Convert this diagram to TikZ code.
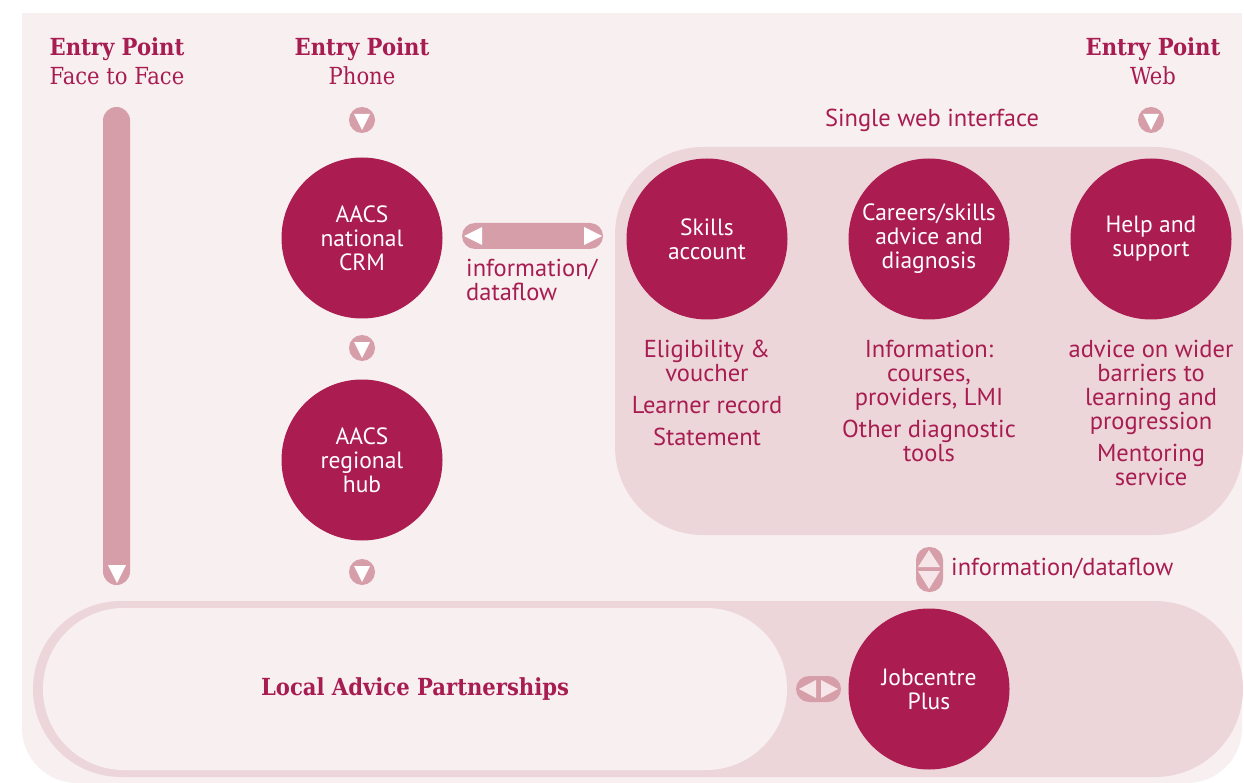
\documentclass[tikz,border=0pt]{standalone}
\usepackage{fontspec}
\setmainfont{PT Sans}
\newfontfamily\slab{DejaVu Serif Condensed}
\definecolor{bgpink}{HTML}{F8EFF1}
\definecolor{regpink}{HTML}{EDD6DA}
\definecolor{arrpink}{HTML}{D69EA8}
\definecolor{darkmag}{HTML}{AB1C50}
\definecolor{txtmag}{HTML}{A81D51}
\definecolor{trilight}{HTML}{F6E6EA}
\tikzset{
  bigc/.style={circle, fill=darkmag, minimum size=161pt, inner sep=0pt, text=white, align=center, font=\fontsize{23.5}{24}\selectfont},
  arrc/.style={circle, fill=arrpink, minimum size=26pt, inner sep=0pt},
  lbl/.style={text=txtmag, align=center, font=\fontsize{24.5}{24}\selectfont, inner sep=0pt},
  head/.style={text=txtmag, align=center, inner sep=0pt, font=\slab\fontsize{23.5}{29}\selectfont},
  dtri/.pic={\fill[white] (-8,-6) -- (8,-6) -- (0,10) -- cycle;}
}
\begin{document}
\begin{tikzpicture}[x=1pt,y=-1pt]
\useasboundingbox (0,0) rectangle (1244,783);
\fill[white] (0,0) rectangle (1244,783);
% background
\fill[bgpink] (22,13) rectangle (1242,700);
\fill[bgpink, rounded corners=55pt] (22,560) rectangle (1242,783);
% web region
\fill[regpink, rounded corners=88pt] (615,147) rectangle (1243,535);
% bottom band
\fill[regpink, rounded corners=88pt] (33,601) rectangle (1243,777);
\fill[bgpink, rounded corners=81pt] (43,608) rectangle (787,770);

% headings
\node[head] (h1) at (117,61) {\textbf{Entry Point}\\Face to Face};
\node[head] (h2) at (362,61) {\textbf{Entry Point}\\Phone};
\node[head] (h3) at (1153,61) {\textbf{Entry Point}\\Web};

% face to face bar
\fill[arrpink, rounded corners=13.5pt] (103,107) rectangle (130,585);
\fill[white] (108,565) -- (126,565) -- (117,583) -- cycle;

% phone column
\node[arrc] (a1) at (362,120) {};
\pic at (a1) {dtri};
\node[bigc] (crm) at (362,238) {AACS\\national\\CRM};
\node[arrc] (a2) at (362,348) {};
\pic at (a2) {dtri};
\node[bigc] (hub) at (362,460) {AACS\\regional\\hub};
\node[arrc] (a3) at (362,572) {};
\pic at (a3) {dtri};

% horizontal dataflow arrow
\fill[arrpink, rounded corners=13pt] (462,223) rectangle (603,249);
\fill[white] (464,236) -- (482,227) -- (482,245) -- cycle;
\fill[white] (602,236) -- (584,227) -- (584,245) -- cycle;
\node[lbl, align=left, anchor=north west] (df1) at (466,259) {information/\\dataflow};

% web column
\node[lbl] (swi) at (932,120) {Single web interface};
\node[arrc] (a4) at (1151,120) {};
\pic at (a4) {dtri};
\node[bigc] (skills) at (707,239) {Skills\\account};
\node[bigc] (careers) at (929,239) {Careers/skills\\advice and\\diagnosis};
\node[bigc] (help) at (1151,239) {Help and\\support};

\node[lbl, anchor=north] (t1) at (707,340) {Eligibility \&\\voucher\\[8pt]Learner record\\[8pt]Statement};
\node[lbl, anchor=north] (t2) at (929,340) {Information:\\courses,\\providers, LMI\\[8pt]Other diagnostic\\tools};
\node[lbl, anchor=north] (t3) at (1151,340) {advice on wider\\barriers to\\learning and\\progression\\[8pt]Mentoring\\service};

% vertical dataflow arrow
\fill[arrpink, rounded corners=13pt] (916,547) rectangle (943,592);
\fill[trilight] (929,550) -- (940,567) -- (918,567) -- cycle;
\fill[trilight] (929,589) -- (940,571) -- (918,571) -- cycle;
\node[lbl, anchor=west] (df2) at (951,568) {information/dataflow};

% bottom
\node[head, font=\slab\bfseries\fontsize{23.5}{26}\selectfont] (lap) at (415,689) {Local Advice Partnerships};
\fill[arrpink, rounded corners=13pt] (796,676) rectangle (841,702);
\fill[trilight] (799,689) -- (816,680) -- (816,698) -- cycle;
\fill[trilight] (838,689) -- (821,680) -- (821,698) -- cycle;
\node[bigc] (jcp) at (929,689) {Jobcentre\\Plus};
\end{tikzpicture}
\end{document}
